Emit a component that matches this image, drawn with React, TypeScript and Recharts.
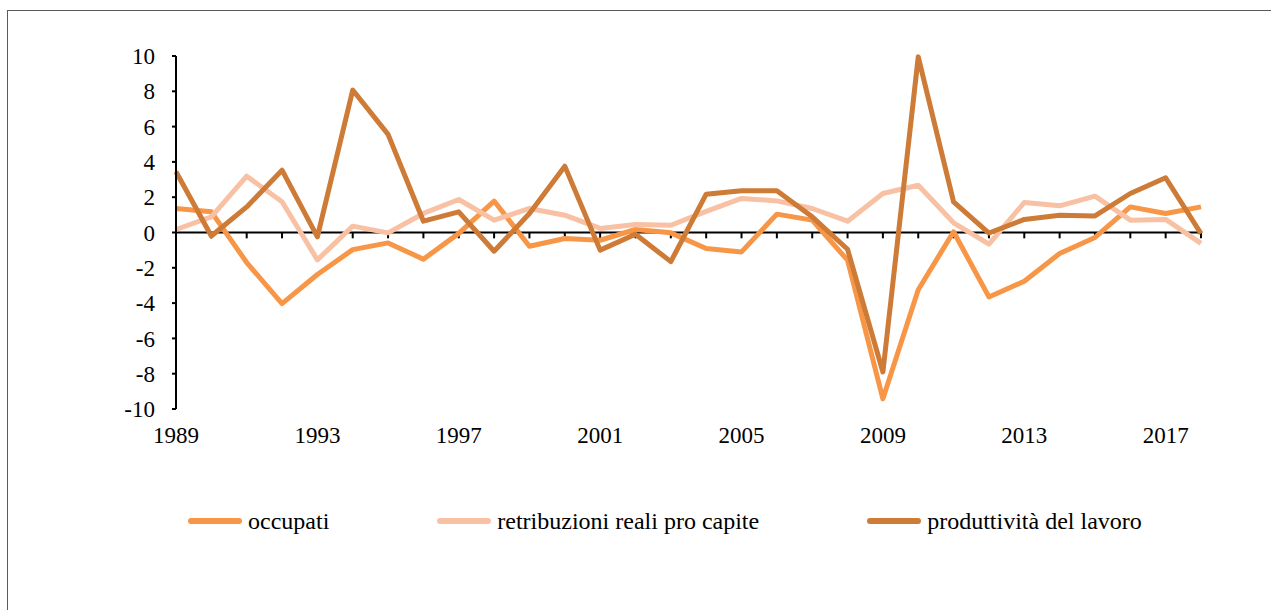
import React from 'react';
import { LineChart, Line, XAxis, YAxis, ReferenceLine, Legend } from 'recharts';

const years = ['1989','1990','1991','1992','1993','1994','1995','1996','1997','1998','1999','2000','2001','2002','2003','2004','2005','2006','2007','2008','2009','2010','2011','2012','2013','2014','2015','2016','2017','2018'];
const occupati = [1.36, 1.17, -1.7, -4.03, -2.38, -0.97, -0.59, -1.51, -0.05, 1.78, -0.78, -0.34, -0.44, 0.17, -0.02, -0.91, -1.1, 1.04, 0.7, -1.57, -9.42, -3.24, 0.04, -3.65, -2.76, -1.19, -0.28, 1.45, 1.08, 1.45];
const retribuzioni = [0.17, 0.89, 3.19, 1.74, -1.55, 0.36, -0.02, 1.08, 1.87, 0.7, 1.36, 0.98, 0.23, 0.45, 0.41, 1.2, 1.93, 1.79, 1.36, 0.64, 2.21, 2.68, 0.55, -0.66, 1.7, 1.51, 2.06, 0.7, 0.74, -0.62];
const produttivita = [3.44, -0.2, 1.45, 3.53, -0.25, 8.07, 5.56, 0.64, 1.17, -1.06, 1.08, 3.76, -1.0, -0.1, -1.65, 2.17, 2.36, 2.36, 0.89, -0.95, -7.9, 9.95, 1.74, -0.03, 0.74, 0.98, 0.94, 2.21, 3.1, -0.06];
const xTickLabels = ['1989','1993','1997','2001','2005','2009','2013','2017'];
const yTicks = [-10, -8, -6, -4, -2, 0, 2, 4, 6, 8, 10];

const seriesDefs = [
  { key: 'occupati', name: 'occupati', color: '#F79646' },
  { key: 'retribuzioni', name: 'retribuzioni reali pro capite', color: '#F8C1A4' },
  { key: 'produttivita', name: 'produttività del lavoro', color: '#CD7B36' },
];

const data = years.map((y, i) => ({
  year: y,
  occupati: occupati[i],
  retribuzioni: retribuzioni[i],
  produttivita: produttivita[i],
}));

const FONT = 'Liberation Serif';

const renderLegend = () => (
  <div style={{ display: 'flex', alignItems: 'center', paddingLeft: 188, fontFamily: FONT, fontSize: 24, color: '#000', height: 28 }}>
    {seriesDefs.map((s) => (
      <div key={s.key} style={{ display: 'flex', alignItems: 'center', marginRight: 108 }}>
        <span style={{ display: 'inline-block', width: 54, height: 6, background: s.color, borderRadius: 3, marginRight: 6 }} />
        <span style={{ whiteSpace: 'nowrap' }}>{s.name}</span>
      </div>
    ))}
  </div>
);

export default function App() {
  return (
    <div style={{ position: 'absolute', left: 0, top: 0, width: 1271, height: 610, background: '#fff', overflow: 'hidden', fontFamily: FONT }}>
      <div style={{ position: 'absolute', left: 7, top: 10, width: 1400, height: 800, borderTop: '1px solid #5a5a5a', borderLeft: '1px solid #5a5a5a' }} />
      <div style={{ position: 'absolute', left: 0, top: 0 }}>
        <LineChart width={1271} height={610} data={data} style={{ fontFamily: FONT }} margin={{ top: 56, right: 70, bottom: 171, left: 116 }}>
          <XAxis
            dataKey="year"
            ticks={xTickLabels}
            interval={0}
            axisLine={false}
            tickLine={false}
            tickSize={0}
            tickMargin={18}
            height={30}
            tick={{ fill: '#000', fontSize: 23, fontFamily: FONT }}
          />
          <YAxis
            domain={[-10, 10]}
            ticks={yTicks}
            interval={0}
            width={60}
            axisLine={{ stroke: '#000', strokeWidth: 2 }}
            tickLine={{ stroke: '#000', strokeWidth: 2 }}
            tickSize={4}
            tickMargin={17}
            tick={{ fill: '#000', fontSize: 23, fontFamily: FONT }}
          />
          <ReferenceLine y={0} stroke="#000" strokeWidth={2} />
          {years.map((y) => (
            <ReferenceLine key={'t' + y} segment={[{ x: y, y: 0 }, { x: y, y: -0.33 }]} stroke="#000" strokeWidth={2} />
          ))}
          {seriesDefs.map((s) => (
            <Line
              key={s.key}
              type="linear"
              dataKey={s.key}
              name={s.name}
              stroke={s.color}
              strokeWidth={5}
              strokeLinejoin="round"
              dot={false}
              activeDot={false}
              isAnimationActive={false}
            />
          ))}
          <Legend verticalAlign="middle" content={renderLegend} wrapperStyle={{ left: 0, top: 507, width: 1271 }} />
        </LineChart>
      </div>
    </div>
  );
}
